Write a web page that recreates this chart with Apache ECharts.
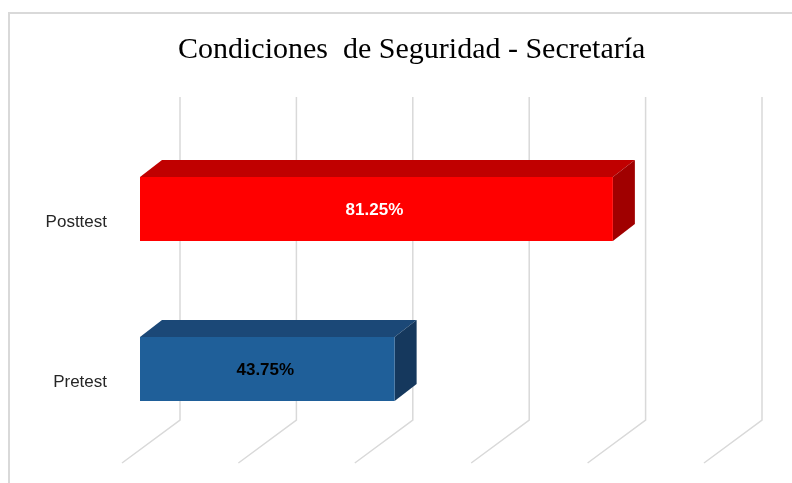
<!DOCTYPE html>
<html>
<head>
<meta charset="utf-8">
<script src="https://cdn.jsdelivr.net/npm/echarts@6/dist/echarts.min.js"></script>
<style>
  html, body { margin: 0; padding: 0; background: #fff; }
  #main { width: 792px; height: 483px; position: relative; }
  #frame { position: absolute; left: 8px; top: 12px; right: 0; bottom: 0;
           border-left: 2px solid #d9d9d9; border-top: 2px solid #d9d9d9; pointer-events: none; }
</style>
</head>
<body>
<div id="main"></div>
<div id="frame"></div>
<script>
var myChart = echarts.init(document.getElementById('main'));

// datos
var categories = ['Pretest', 'Posttest'];
var values = [43.75, 81.25];
var ticks = [0, 20, 40, 60, 80, 100];

var frontColors = ['#1f5f99', '#ff0000'];
var topColors = ['#1b4877', '#c00000'];
var sideColors = ['#15385d', '#a00000'];
var labelColors = ['#000000', '#ffffff'];

var DX = 22, DY = -17;   // profundidad de la barra
var BAR_H = 64;

function renderBar(params, api) {
  var idx = api.value(1);
  var p0 = api.coord([0, idx]);
  var p1 = api.coord([api.value(0), idx]);
  var cy = p1[1] - 13;
  var x0 = p0[0], x1 = p1[0];
  var y0 = cy - BAR_H / 2, y1 = cy + BAR_H / 2;
  return {
    type: 'group',
    children: [
      { type: 'polygon', shape: { points: [[x0, y0], [x0 + DX, y0 + DY], [x1 + DX, y0 + DY], [x1, y0]] },
        style: { fill: topColors[idx] } },
      { type: 'polygon', shape: { points: [[x1, y0], [x1 + DX, y0 + DY], [x1 + DX, y1 + DY], [x1, y1]] },
        style: { fill: sideColors[idx] } },
      { type: 'rect', shape: { x: x0, y: y0, width: x1 - x0, height: BAR_H },
        style: { fill: frontColors[idx] } },
      { type: 'text', x: (x0 + x1) / 2 - 2, y: cy + 1,
        style: { text: values[idx].toFixed(2) + '%', fill: labelColors[idx],
                 font: 'bold 17px "Liberation Sans", Arial, sans-serif',
                 align: 'center', verticalAlign: 'middle' } }
    ]
  };
}

function renderGridLine(params, api) {
  var cs = params.coordSys;
  var x = api.coord([api.value(0), 0])[0];
  var yTop = cs.y - 45;
  var yWall = cs.y + cs.height - 42;
  var yFloor = cs.y + cs.height + 1;
  return {
    type: 'polyline',
    shape: { points: [[x + 40, yTop], [x + 40, yWall], [x - 18, yFloor]] },
    style: { stroke: '#d9d9d9', lineWidth: 1.5, fill: null },
    silent: true
  };
}

var option = {
  animation: false,
  title: {
    text: 'Condiciones  de Seguridad - Secretaría',
    left: 173,
    top: 30,
    textStyle: { fontFamily: '"Liberation Serif", "Times New Roman", serif',
                 fontWeight: 'normal', fontSize: 30, color: '#000' }
  },
  grid: { left: 140, right: 70, top: 142, bottom: 21 },
  xAxis: {
    type: 'value', min: 0, max: 100, interval: 20,
    axisLine: { show: false }, axisTick: { show: false },
    axisLabel: { show: false }, splitLine: { show: false }
  },
  yAxis: {
    type: 'category', data: categories,
    axisLine: { show: false }, axisTick: { show: false },
    axisLabel: { color: '#262626', fontSize: 17, margin: 33,
                 fontFamily: '"Liberation Sans", Arial, sans-serif' }
  },
  series: [
    {
      type: 'custom', renderItem: renderGridLine, z: 1,
      data: ticks.map(function (t) { return [t]; }),
      encode: { x: 0 }
    },
    {
      type: 'custom', renderItem: renderBar, z: 2,
      data: values.map(function (v, i) { return [v, i]; }),
      encode: { x: 0, y: 1 }
    }
  ]
};
myChart.setOption(option);
</script>
</body>
</html>
